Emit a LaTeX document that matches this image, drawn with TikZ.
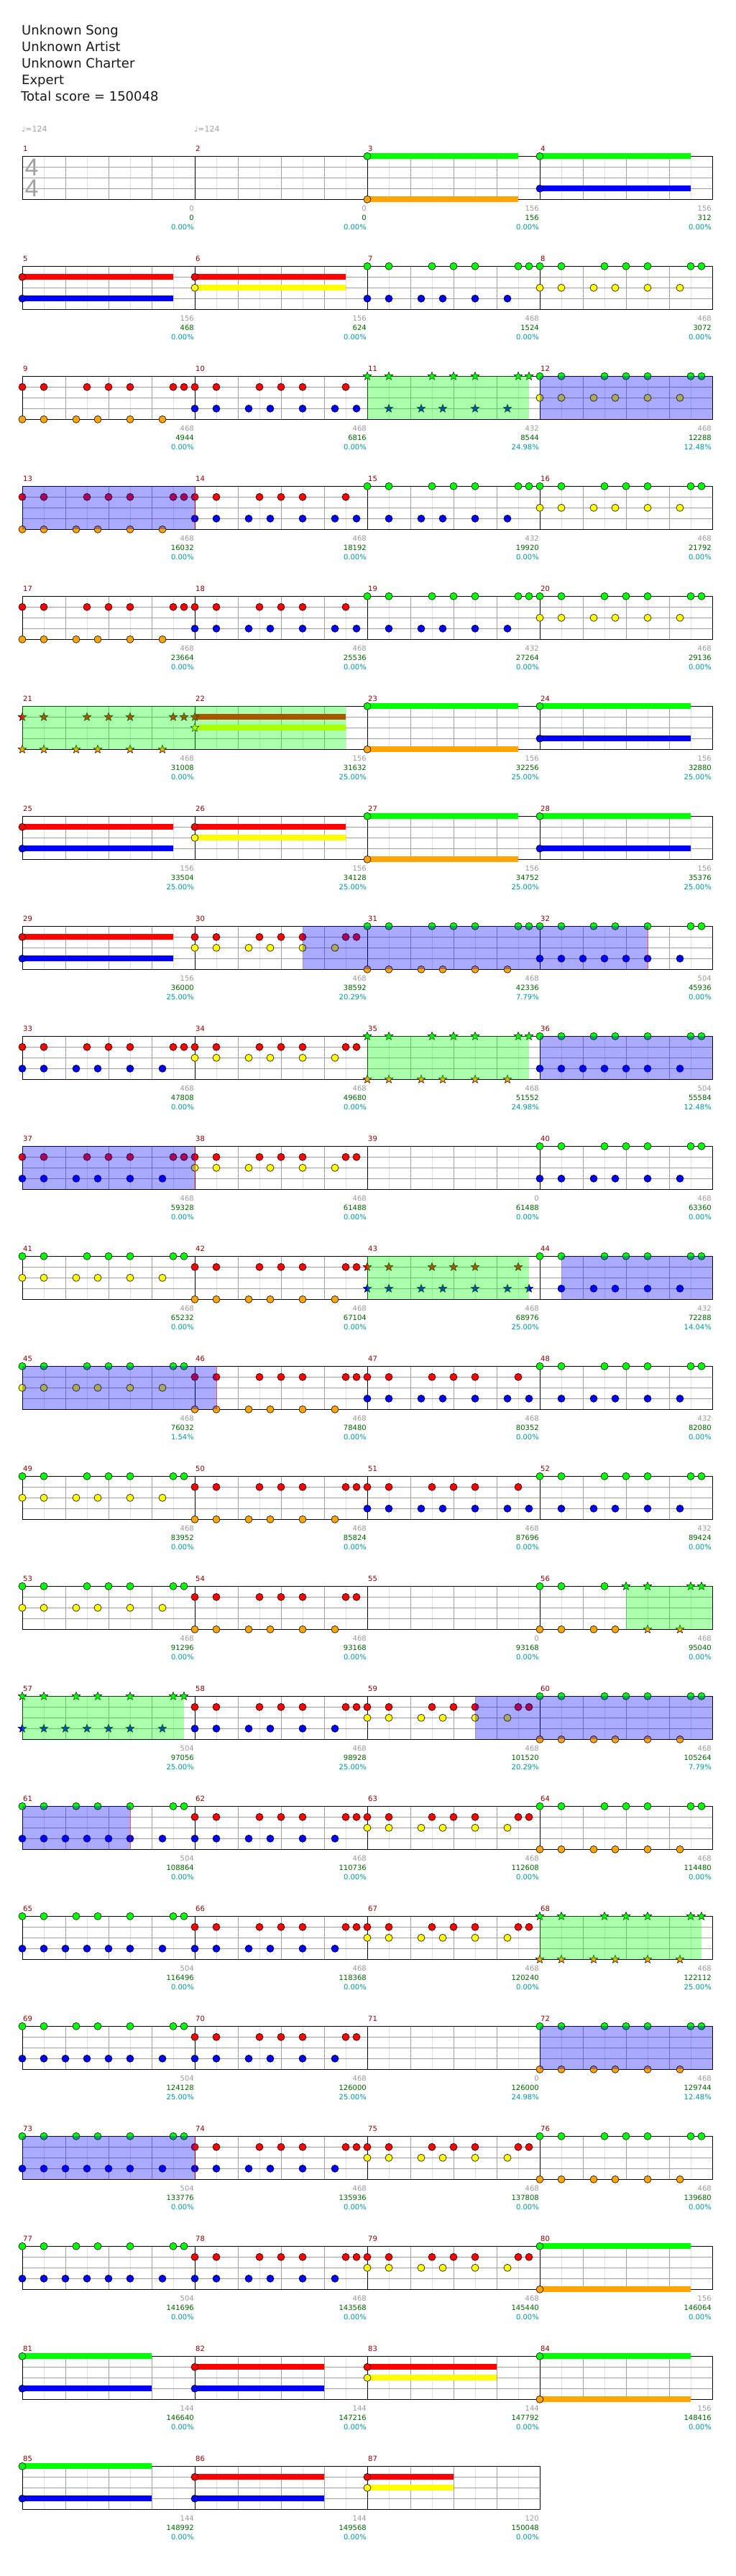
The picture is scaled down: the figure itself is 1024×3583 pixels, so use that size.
\documentclass[tikz,border=0pt]{standalone}
\usepackage{fontspec}
\setmainfont{DejaVu Sans}
\newfontfamily\tsfont{Liberation Sans}
\usetikzlibrary{shapes.geometric}
\definecolor{lane0}{RGB}{0,255,0}
\definecolor{lane1}{RGB}{255,0,0}
\definecolor{lane2}{RGB}{255,255,0}
\definecolor{lane3}{RGB}{0,0,255}
\definecolor{lane4}{RGB}{255,165,0}
\definecolor{mnum}{RGB}{139,0,0}
\definecolor{lgray}{RGB}{153,153,153}
\definecolor{sgreen}{RGB}{0,100,0}
\definecolor{pcyan}{RGB}{0,150,150}
\definecolor{gridq}{RGB}{160,160,160}
\definecolor{gride}{RGB}{224,224,224}
\definecolor{tsgray}{RGB}{160,160,160}
\tikzset{
  note/.style={circle, draw=black, line width=0.6pt, inner sep=0pt, minimum size=10pt},
  spstar/.style={star, star points=5, star point ratio=2.3, draw=black, line width=0.5pt, inner sep=0pt, minimum size=12pt},
  lbl/.style={font=\fontsize{10}{12}\selectfont, inner sep=0pt},
  rowpos/.style={shift={(31,{217.3+153*(#1-1)})}}
}
\def\rhA{0,2,6,8,10,14,15}
\def\rhB{0,2,5,7,10,13}
\def\rhC{0,2,6,8,10,14}
\def\rhD{0,2,5,7,10,13,15}
\def\rhE{2,5,7,10,13}
\def\rhF{0,2,5,7,10,14,15}
\def\rhG{0,2,4,6,8,10,13}
\newcommand\Nt[3]{\edef\ntlist{#3}\foreach \p in \ntlist {\node[note, fill=lane#2] at ({240*#1+15*\p},{15*#2}) {};}}
\newcommand\Sr[3]{\edef\ntlist{#3}\foreach \p in \ntlist {\node[spstar, fill=lane#2] at ({240*#1+15*\p},{15*#2}) {};}}
\newcommand\Su[3]{\fill[lane#2] ({240*#1},{15*#2-4}) rectangle ({240*#1+15*#3},{15*#2+4});}
\newcommand\Sn[3]{\Su{#1}{#2}{#3}\Nt{#1}{#2}{0}}
\newcommand\SPr[2]{\fill[lane0, opacity=0.333] (#1,0) rectangle (#2,60);}
\newcommand\ACr[2]{\fill[lane3, opacity=0.333] (#1,0) rectangle (#2,60);}
\newcommand\ACend[1]{\draw[red, opacity=0.6, line width=0.8pt] (#1,0) -- (#1,60);}
\newcommand\Staff[1]{%
 \foreach \m in {1,...,#1}{%
  \foreach \k in {1,3,5,7}{\draw[gride, line width=0.8pt] ({240*(\m-1)+30*\k},0) -- ({240*(\m-1)+30*\k},60);}
  \foreach \k in {2,4,6}{\draw[gridq, line width=0.8pt] ({240*(\m-1)+30*\k},0) -- ({240*(\m-1)+30*\k},60);}
 }
 \foreach \yy in {15,30,45}{\draw[gridq, line width=1pt] (0,\yy) -- ({240*#1},\yy);}
 \foreach \m in {1,...,#1}{\draw[black, line width=0.8pt] ({240*\m},0) -- ({240*\m},60);}
 \draw[black, line width=1pt] (0,0) rectangle ({240*#1},60);
}
\newcommand\ML[5]{%
 \node[lbl, text=mnum, anchor=base west] at ({240*#1+1},-7) {#2};
 \node[lbl, text=lgray, anchor=base east] at ({240*#1+239},76) {#3};
 \node[lbl, text=sgreen, anchor=base east] at ({240*#1+239},89) {#4};
 \node[lbl, text=pcyan, anchor=base east] at ({240*#1+239},102) {#5};
}
\begin{document}
\begin{tikzpicture}[x=1pt,y=-1pt]
\fill[white] (0,0) rectangle (1024,3583);
\useasboundingbox (0,0) rectangle (1024,3583);
% title
\begin{scope}[every node/.style={anchor=base west, inner sep=0pt, font=\fontsize{18}{22}\selectfont, text=black!90}]
\node (t1) at (30,49) {Unknown Song};
\node (t2) at (30,72) {Unknown Artist};
\node (t3) at (30,95) {Unknown Charter};
\node (t4) at (30,118) {Expert};
\node (t5) at (29,141) {Total score = 150048};
\end{scope}
\node[lbl, text=tsgray, anchor=base west, font=\fontsize{11}{12}\selectfont] (tp1) at (30,184) {♩=124};
\node[lbl, text=tsgray, anchor=base west, font=\fontsize{11}{12}\selectfont] (tp2) at (270,184) {♩=124};
% row 1
\begin{scope}[rowpos=1]
\Staff{4}
\node[inner sep=0pt, text=tsgray, font=\tsfont\fontsize{34}{34}\selectfont] (ts1) at (13,15.5) {4};
\node[inner sep=0pt, text=tsgray, font=\tsfont\fontsize{34}{34}\selectfont] (ts2) at (13,45) {4};
\Sn{2}{0}{14}\Sn{2}{4}{14}\Sn{3}{0}{14}\Sn{3}{3}{14}
\ML{0}{1}{0}{0}{0.00\%}\ML{1}{2}{0}{0}{0.00\%}\ML{2}{3}{156}{156}{0.00\%}\ML{3}{4}{156}{312}{0.00\%}
\end{scope}
% row 2
\begin{scope}[rowpos=2]
\Staff{4}
\Sn{0}{1}{14}\Sn{0}{3}{14}\Sn{1}{1}{14}\Sn{1}{2}{14}
\Nt{2}{0}{\rhA}\Nt{2}{3}{\rhB}\Nt{3}{0}{\rhA}\Nt{3}{2}{\rhB}
\ML{0}{5}{156}{468}{0.00\%}\ML{1}{6}{156}{624}{0.00\%}\ML{2}{7}{468}{1524}{0.00\%}\ML{3}{8}{468}{3072}{0.00\%}
\end{scope}
% row 3
\begin{scope}[rowpos=3]
\Staff{4}
\Nt{0}{1}{\rhA}\Nt{0}{4}{\rhB}\Nt{1}{1}{\rhC}\Nt{1}{3}{\rhD}\Sr{2}{0}{\rhA}\Sr{2}{3}{\rhE}\Nt{3}{0}{\rhA}\Nt{3}{2}{\rhB}
\SPr{480}{705}\ACr{720}{960}
\ML{0}{9}{468}{4944}{0.00\%}\ML{1}{10}{468}{6816}{0.00\%}\ML{2}{11}{432}{8544}{24.98\%}\ML{3}{12}{468}{12288}{12.48\%}
\end{scope}
% row 4
\begin{scope}[rowpos=4]
\Staff{4}
\Nt{0}{1}{\rhA}\Nt{0}{4}{\rhB}\Nt{1}{1}{\rhC}\Nt{1}{3}{\rhD}\Nt{2}{0}{\rhA}\Nt{2}{3}{\rhE}\Nt{3}{0}{\rhA}\Nt{3}{2}{\rhB}
\ACr{0}{240}\ACend{240}
\ML{0}{13}{468}{16032}{0.00\%}\ML{1}{14}{468}{18192}{0.00\%}\ML{2}{15}{432}{19920}{0.00\%}\ML{3}{16}{468}{21792}{0.00\%}
\end{scope}
% row 5
\begin{scope}[rowpos=5]
\Staff{4}
\Nt{0}{1}{\rhA}\Nt{0}{4}{\rhB}\Nt{1}{1}{\rhC}\Nt{1}{3}{\rhD}\Nt{2}{0}{\rhA}\Nt{2}{3}{\rhE}\Nt{3}{0}{\rhA}\Nt{3}{2}{\rhB}
\ML{0}{17}{468}{23664}{0.00\%}\ML{1}{18}{468}{25536}{0.00\%}\ML{2}{19}{432}{27264}{0.00\%}\ML{3}{20}{468}{29136}{0.00\%}
\end{scope}
% row 6
\begin{scope}[rowpos=6]
\Staff{4}
\Sr{0}{1}{\rhA}\Sr{0}{4}{\rhB}
\Su{1}{1}{14}\Su{1}{2}{14}\Sr{1}{1}{0}\Sr{1}{2}{0}
\Sn{2}{0}{14}\Sn{2}{4}{14}\Sn{3}{0}{14}\Sn{3}{3}{14}
\SPr{0}{450}
\ML{0}{21}{468}{31008}{0.00\%}\ML{1}{22}{156}{31632}{25.00\%}\ML{2}{23}{156}{32256}{25.00\%}\ML{3}{24}{156}{32880}{25.00\%}
\end{scope}
% row 7
\begin{scope}[rowpos=7]
\Staff{4}
\Sn{0}{1}{14}\Sn{0}{3}{14}\Sn{1}{1}{14}\Sn{1}{2}{14}\Sn{2}{0}{14}\Sn{2}{4}{14}\Sn{3}{0}{14}\Sn{3}{3}{14}
\ML{0}{25}{156}{33504}{25.00\%}\ML{1}{26}{156}{34128}{25.00\%}\ML{2}{27}{156}{34752}{25.00\%}\ML{3}{28}{156}{35376}{25.00\%}
\end{scope}
% row 8
\begin{scope}[rowpos=8]
\Staff{4}
\Sn{0}{1}{14}\Sn{0}{3}{14}
\Nt{1}{1}{\rhA}\Nt{1}{2}{\rhB}\Nt{2}{0}{\rhA}\Nt{2}{4}{\rhB}\Nt{3}{0}{\rhF}\Nt{3}{3}{\rhG}
\ACr{390}{870}\ACend{870}
\ML{0}{29}{156}{36000}{25.00\%}\ML{1}{30}{468}{38592}{20.29\%}\ML{2}{31}{468}{42336}{7.79\%}\ML{3}{32}{504}{45936}{0.00\%}
\end{scope}
% row 9
\begin{scope}[rowpos=9]
\Staff{4}
\Nt{0}{1}{\rhA}\Nt{0}{3}{\rhB}\Nt{1}{1}{\rhA}\Nt{1}{2}{\rhB}\Sr{2}{0}{\rhA}\Sr{2}{4}{\rhB}\Nt{3}{0}{\rhF}\Nt{3}{3}{\rhG}
\SPr{480}{705}\ACr{720}{960}
\ML{0}{33}{468}{47808}{0.00\%}\ML{1}{34}{468}{49680}{0.00\%}\ML{2}{35}{468}{51552}{24.98\%}\ML{3}{36}{504}{55584}{12.48\%}
\end{scope}
% row 10
\begin{scope}[rowpos=10]
\Staff{4}
\Nt{0}{1}{\rhA}\Nt{0}{3}{\rhB}\Nt{1}{1}{\rhA}\Nt{1}{2}{\rhB}\Nt{3}{0}{\rhA}\Nt{3}{3}{\rhB}
\ACr{0}{240}\ACend{240}
\ML{0}{37}{468}{59328}{0.00\%}\ML{1}{38}{468}{61488}{0.00\%}\ML{2}{39}{0}{61488}{0.00\%}\ML{3}{40}{468}{63360}{0.00\%}
\end{scope}
% row 11
\begin{scope}[rowpos=11]
\Staff{4}
\Nt{0}{0}{\rhA}\Nt{0}{2}{\rhB}\Nt{1}{1}{\rhA}\Nt{1}{4}{\rhB}\Sr{2}{1}{\rhC}\Sr{2}{3}{\rhD}\Nt{3}{0}{\rhA}\Nt{3}{3}{\rhE}
\SPr{480}{705}\ACr{750}{960}
\ML{0}{41}{468}{65232}{0.00\%}\ML{1}{42}{468}{67104}{0.00\%}\ML{2}{43}{468}{68976}{25.00\%}\ML{3}{44}{432}{72288}{14.04\%}
\end{scope}
% row 12
\begin{scope}[rowpos=12]
\Staff{4}
\Nt{0}{0}{\rhA}\Nt{0}{2}{\rhB}\Nt{1}{1}{\rhA}\Nt{1}{4}{\rhB}\Nt{2}{1}{\rhC}\Nt{2}{3}{\rhD}\Nt{3}{0}{\rhA}\Nt{3}{3}{\rhE}
\ACr{0}{270}\ACend{270}
\ML{0}{45}{468}{76032}{1.54\%}\ML{1}{46}{468}{78480}{0.00\%}\ML{2}{47}{468}{80352}{0.00\%}\ML{3}{48}{432}{82080}{0.00\%}
\end{scope}
% row 13
\begin{scope}[rowpos=13]
\Staff{4}
\Nt{0}{0}{\rhA}\Nt{0}{2}{\rhB}\Nt{1}{1}{\rhA}\Nt{1}{4}{\rhB}\Nt{2}{1}{\rhC}\Nt{2}{3}{\rhD}\Nt{3}{0}{\rhA}\Nt{3}{3}{\rhE}
\ML{0}{49}{468}{83952}{0.00\%}\ML{1}{50}{468}{85824}{0.00\%}\ML{2}{51}{468}{87696}{0.00\%}\ML{3}{52}{432}{89424}{0.00\%}
\end{scope}
% row 14
\begin{scope}[rowpos=14]
\Staff{4}
\Nt{0}{0}{\rhA}\Nt{0}{2}{\rhB}\Nt{1}{1}{\rhA}\Nt{1}{4}{\rhB}
\Nt{3}{0}{0,2,6}\Sr{3}{0}{8,10,14,15}\Nt{3}{4}{0,2,5,7}\Sr{3}{4}{10,13}
\SPr{840}{960}
\ML{0}{53}{468}{91296}{0.00\%}\ML{1}{54}{468}{93168}{0.00\%}\ML{2}{55}{0}{93168}{0.00\%}\ML{3}{56}{468}{95040}{0.00\%}
\end{scope}
% row 15
\begin{scope}[rowpos=15]
\Staff{4}
\Sr{0}{0}{\rhF}\Sr{0}{3}{\rhG}\Nt{1}{1}{\rhA}\Nt{1}{3}{\rhB}\Nt{2}{1}{\rhA}\Nt{2}{2}{\rhB}\Nt{3}{0}{\rhA}\Nt{3}{4}{\rhB}
\SPr{0}{225}\ACr{630}{960}
\ML{0}{57}{504}{97056}{25.00\%}\ML{1}{58}{468}{98928}{25.00\%}\ML{2}{59}{468}{101520}{20.29\%}\ML{3}{60}{468}{105264}{7.79\%}
\end{scope}
% row 16
\begin{scope}[rowpos=16]
\Staff{4}
\Nt{0}{0}{\rhF}\Nt{0}{3}{\rhG}\Nt{1}{1}{\rhA}\Nt{1}{3}{\rhB}\Nt{2}{1}{\rhA}\Nt{2}{2}{\rhB}\Nt{3}{0}{\rhA}\Nt{3}{4}{\rhB}
\ACr{0}{150}\ACend{150}
\ML{0}{61}{504}{108864}{0.00\%}\ML{1}{62}{468}{110736}{0.00\%}\ML{2}{63}{468}{112608}{0.00\%}\ML{3}{64}{468}{114480}{0.00\%}
\end{scope}
% row 17
\begin{scope}[rowpos=17]
\Staff{4}
\Nt{0}{0}{\rhF}\Nt{0}{3}{\rhG}\Nt{1}{1}{\rhA}\Nt{1}{3}{\rhB}\Nt{2}{1}{\rhA}\Nt{2}{2}{\rhB}\Sr{3}{0}{\rhA}\Sr{3}{4}{\rhB}
\SPr{720}{945}
\ML{0}{65}{504}{116496}{0.00\%}\ML{1}{66}{468}{118368}{0.00\%}\ML{2}{67}{468}{120240}{0.00\%}\ML{3}{68}{468}{122112}{25.00\%}
\end{scope}
% row 18
\begin{scope}[rowpos=18]
\Staff{4}
\Nt{0}{0}{\rhF}\Nt{0}{3}{\rhG}\Nt{1}{1}{\rhA}\Nt{1}{3}{\rhB}\Nt{3}{0}{\rhA}\Nt{3}{4}{\rhB}
\ACr{720}{960}
\ML{0}{69}{504}{124128}{25.00\%}\ML{1}{70}{468}{126000}{25.00\%}\ML{2}{71}{0}{126000}{24.98\%}\ML{3}{72}{468}{129744}{12.48\%}
\end{scope}
% row 19
\begin{scope}[rowpos=19]
\Staff{4}
\Nt{0}{0}{\rhF}\Nt{0}{3}{\rhG}\Nt{1}{1}{\rhA}\Nt{1}{3}{\rhB}\Nt{2}{1}{\rhA}\Nt{2}{2}{\rhB}\Nt{3}{0}{\rhA}\Nt{3}{4}{\rhB}
\ACr{0}{240}\ACend{240}
\ML{0}{73}{504}{133776}{0.00\%}\ML{1}{74}{468}{135936}{0.00\%}\ML{2}{75}{468}{137808}{0.00\%}\ML{3}{76}{468}{139680}{0.00\%}
\end{scope}
% row 20
\begin{scope}[rowpos=20]
\Staff{4}
\Nt{0}{0}{\rhF}\Nt{0}{3}{\rhG}\Nt{1}{1}{\rhA}\Nt{1}{3}{\rhB}\Nt{2}{1}{\rhA}\Nt{2}{2}{\rhB}\Sn{3}{0}{14}\Sn{3}{4}{14}
\ML{0}{77}{504}{141696}{0.00\%}\ML{1}{78}{468}{143568}{0.00\%}\ML{2}{79}{468}{145440}{0.00\%}\ML{3}{80}{156}{146064}{0.00\%}
\end{scope}
% row 21
\begin{scope}[rowpos=21]
\Staff{4}
\Sn{0}{0}{12}\Sn{0}{3}{12}\Sn{1}{1}{12}\Sn{1}{3}{12}\Sn{2}{1}{12}\Sn{2}{2}{12}\Sn{3}{0}{14}\Sn{3}{4}{14}
\ML{0}{81}{144}{146640}{0.00\%}\ML{1}{82}{144}{147216}{0.00\%}\ML{2}{83}{144}{147792}{0.00\%}\ML{3}{84}{156}{148416}{0.00\%}
\end{scope}
% row 22
\begin{scope}[rowpos=22]
\Staff{3}
\Sn{0}{0}{12}\Sn{0}{3}{12}\Sn{1}{1}{12}\Sn{1}{3}{12}\Sn{2}{1}{8}\Sn{2}{2}{8}
\ML{0}{85}{144}{148992}{0.00\%}\ML{1}{86}{144}{149568}{0.00\%}\ML{2}{87}{120}{150048}{0.00\%}
\end{scope}
\end{tikzpicture}
\end{document}
